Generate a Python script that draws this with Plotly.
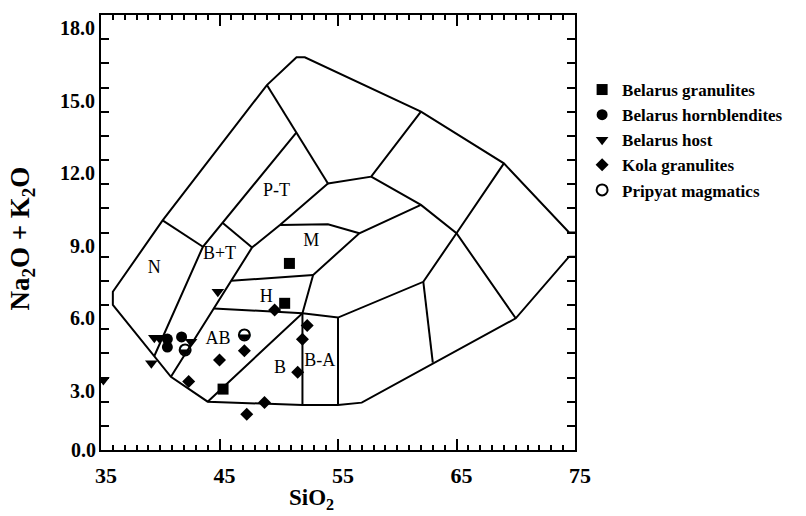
import plotly.graph_objects as go

# ---- TAS field boundaries (SiO2, Na2O+K2O) ----
outer_x = [75.0, 74.5, 69.0, 62.0, 52.2, 51.5, 49.0, 40.2, 36.0, 36.0, 40.9, 44.0, 52.0, 55.0, 57.0, 70.0, 74.5, 75.0]
outer_y = [9.0, 9.0, 11.86, 14.0, 16.25, 16.25, 15.1, 9.5, 6.55, 6.0, 3.03, 2.0, 1.86, 1.86, 1.96, 5.45, 8.0, 8.0]

inner_lines = [
    ([40.2, 43.6], [9.5, 8.41]),
    ([39.5, 43.6, 51.5], [3.89, 8.41, 13.14]),
    ([45.25, 47.75], [9.4, 8.38]),
    ([40.9, 47.75, 50.1, 54.15], [3.03, 8.38, 9.31, 11.03]),
    ([49.0, 51.5, 54.15], [15.1, 13.14, 11.03]),
    ([54.15, 57.8, 62.0], [11.03, 11.31, 14.0]),
    ([57.8, 62.0, 65.0, 70.0], [11.31, 10.14, 8.97, 5.45]),
    ([62.0, 56.8, 52.9, 52.0, 44.0], [10.14, 8.97, 7.24, 5.66, 2.0]),
    ([50.1, 54.15, 56.8], [9.31, 9.34, 8.97]),
    ([46.0, 52.9], [7.0, 7.24]),
    ([44.52, 52.0, 55.0, 62.2, 65.0, 69.0], [5.86, 5.66, 5.48, 6.96, 8.97, 11.86]),
    ([52.0, 52.0], [5.66, 1.86]),
    ([55.0, 55.0], [5.48, 1.86]),
    ([62.2, 63.0], [6.96, 3.62]),
]

# ---- field names ----
field_names = ["N", "B+T", "P-T", "M", "H", "AB", "B", "B-A"]
field_x = [39.5, 45.0, 49.8, 52.75, 48.95, 44.87, 50.1, 53.45]
field_y = [7.5, 8.07, 10.7, 8.62, 6.32, 4.58, 3.38, 3.65]

# ---- samples ----
gran_x = [50.9, 50.5, 45.3]
gran_y = [7.72, 6.07, 2.52]

horn_x = [40.6, 40.6, 41.8]
horn_y = [4.59, 4.26, 4.68]

host_x = [35.2, 39.25, 39.5, 39.9, 42.6, 44.86]
host_y = [2.9, 3.59, 4.65, 4.65, 4.48, 6.55]

kola_x = [42.4, 45.0, 47.1, 47.3, 48.8, 49.65, 52.4, 52.0, 51.6]
kola_y = [2.83, 3.72, 4.11, 1.48, 1.97, 5.79, 5.15, 4.58, 3.22]

prip_x = [47.1, 42.1]
prip_y = [4.76, 4.14]

# ---- axes ----
x_ticks = [35, 45, 55, 65, 75]
x_ticktext = ["35", "45", "55", "65", "75"]
y_ticks = [3, 6, 9, 12, 15, 18]
y_ticktext = ["3.0", "6.0", "9.0", "12.0", "15.0", "18.0"]
y_zero_tick = [0]
y_zero_text = ["0.0"]

SERIF = "Liberation Serif"
BLACK = "black"

fig = go.Figure()

# field boundaries as one polyline set
bx, by = list(outer_x), list(outer_y)
for lx, ly in inner_lines:
    bx += [None] + lx
    by += [None] + ly
fig.add_trace(go.Scatter(x=bx, y=by, mode="lines", line=dict(color=BLACK, width=2),
                         showlegend=False, hoverinfo="skip"))

fig.add_trace(go.Scatter(x=field_x, y=field_y, mode="text", text=field_names,
                         textfont=dict(family=SERIF, size=18, color=BLACK),
                         showlegend=False, hoverinfo="skip"))

mk_line = dict(width=0)
fig.add_trace(go.Scatter(x=gran_x, y=gran_y, mode="markers", name="Belarus granulites",
                         marker=dict(symbol="square", size=11, color=BLACK, line=mk_line)))
fig.add_trace(go.Scatter(x=horn_x, y=horn_y, mode="markers", name="Belarus hornblendites",
                         marker=dict(symbol="circle", size=11, color=BLACK, line=mk_line)))
fig.add_trace(go.Scatter(x=host_x, y=host_y, mode="markers", name="Belarus host",
                         marker=dict(symbol="triangle-down", size=11, color=BLACK, line=mk_line)))
fig.add_trace(go.Scatter(x=kola_x, y=kola_y, mode="markers", name="Kola granulites",
                         marker=dict(symbol="diamond", size=10, color=BLACK, line=mk_line)))
# half-filled circle: open ring marker plus a lower-half-black glyph on top
fig.add_trace(go.Scatter(x=prip_x, y=prip_y, mode="markers+text", name="Pripyat magmatics",
                         text=["\u25d2"] * len(prip_x), textposition="middle center",
                         textfont=dict(family="DejaVu Sans", size=14, color=BLACK),
                         marker=dict(symbol="circle-open", size=11, color=BLACK,
                                     line=dict(color=BLACK, width=2))))

tick_font = dict(family=SERIF, color=BLACK, weight="bold")

annotations = [
    dict(text="SiO<sub>2</sub>", xref="paper", yref="paper", x=0.4446, y=-0.113,
         xanchor="center", yanchor="middle", showarrow=False,
         font=dict(family=SERIF, size=23, color=BLACK, weight="bold")),
    dict(text="Na<sub>2</sub>O + K<sub>2</sub>O", xref="paper", yref="paper",
         x=-0.1658, y=0.487, xanchor="center", yanchor="middle", textangle=-90,
         showarrow=False, font=dict(family=SERIF, size=27, color=BLACK, weight="bold")),
]
# the 0.0 label sits level with the baseline
for v, t in zip(y_zero_tick, y_zero_text):
    annotations.append(dict(text=t, xref="paper", yref="y", x=0, y=v, xanchor="right",
                            yanchor="middle", xshift=-3, showarrow=False,
                            font=dict(size=20, **tick_font)))

fig.update_layout(
    width=806, height=516,
    margin=dict(l=101, r=231, t=15, b=66),
    paper_bgcolor="white", plot_bgcolor="white",
    showlegend=True,
    legend=dict(x=1.015, y=0.869, xanchor="left", yanchor="top",
                font=dict(family=SERIF, size=17, color=BLACK, weight="bold"),
                bgcolor="rgba(0,0,0,0)", tracegroupgap=0, itemsizing="trace"),
    xaxis=dict(range=[35, 75], tickmode="array", tickvals=x_ticks, ticktext=x_ticktext,
               ticks="inside", ticklen=11, tickwidth=1.5, tickcolor=BLACK,
               minor=dict(tickmode="linear", tick0=35, dtick=1, ticks="inside",
                          ticklen=5, tickwidth=1.5, tickcolor=BLACK),
               showline=True, linewidth=2, linecolor=BLACK, mirror="ticks",
               showgrid=False, zeroline=False,
               tickfont=dict(size=22, **tick_font),
               ticklabelshift=5, ticklabelstandoff=5),
    yaxis=dict(range=[0, 18], tickmode="array", tickvals=y_ticks, ticktext=y_ticktext,
               ticks="inside", ticklen=8, tickwidth=1.5, tickcolor=BLACK,
               minor=dict(tickmode="linear", tick0=0, dtick=1, ticks="inside",
                          ticklen=8, tickwidth=1.5, tickcolor=BLACK),
               showline=True, linewidth=2, linecolor=BLACK, mirror="ticks",
               showgrid=False, zeroline=False,
               tickfont=dict(size=20, **tick_font),
               ticklabelshift=13, ticklabelstandoff=0),
    annotations=annotations,
)

fig.write_html("out.html")
